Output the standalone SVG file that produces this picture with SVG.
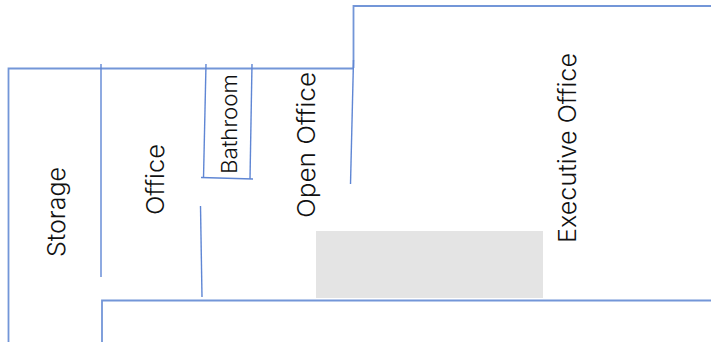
<svg xmlns="http://www.w3.org/2000/svg" width="711" height="342" viewBox="0 0 711 342">
<style>
.wall{fill:none;stroke:#7396d8;stroke-width:1.800}
.thin{fill:none;stroke:#5f86d4;stroke-width:1.400}
text{font-family:"Inter","Liberation Sans",Arial,sans-serif;font-weight:300;fill:#111111;font-size:24px}
</style>
<rect width="711" height="342" fill="#ffffff"/>
<rect id="grey-area" x="316" y="231" width="227" height="67" fill="#e4e4e4"/>
<g id="walls">
<path class="wall" d="M8.500 342V68.500H353.500"/>
<path class="wall" d="M353.500 68V6H711"/>
<path class="wall" d="M102 342V300.500H711"/>
<path class="thin" d="M101 64V277"/>
<path class="thin" d="M206 64L203.500 178"/>
<path class="thin" d="M252 64L250 179"/>
<path class="thin" d="M201 177.500L253 179"/>
<path class="thin" d="M200.500 206L202 297"/>
<path class="thin" d="M353.500 60L350.500 184"/>
</g>
<g id="storage"><text transform="translate(65 257) rotate(-90)" textLength="90" lengthAdjust="spacingAndGlyphs">Storage</text></g>
<g id="office"><text transform="translate(163.500 215) rotate(-90)" textLength="71" lengthAdjust="spacingAndGlyphs">Office</text></g>
<g id="bathroom"><text transform="translate(236.500 174) rotate(-90)" style="font-size:21px" textLength="100" lengthAdjust="spacingAndGlyphs">Bathroom</text></g>
<g id="open-office"><text transform="translate(314.500 218) rotate(-90)" textLength="146" lengthAdjust="spacingAndGlyphs">Open Office</text></g>
<g id="executive-office"><text transform="translate(575.500 243) rotate(-90)" textLength="190" lengthAdjust="spacingAndGlyphs">Executive Office</text></g>
</svg>
